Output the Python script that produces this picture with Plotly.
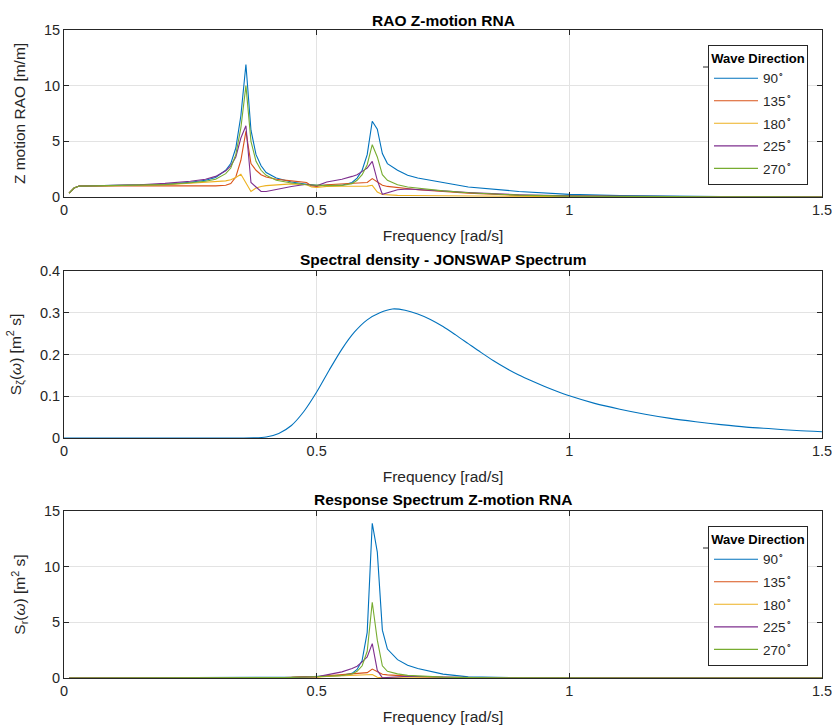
import plotly.graph_objects as go

# ---------------- data ----------------
freq = [0.01, 0.02, 0.03, 0.05, 0.10, 0.15, 0.20, 0.25, 0.28, 0.30,
        0.32, 0.33, 0.34, 0.35, 0.36, 0.37, 0.38, 0.39, 0.40, 0.42,
        0.45, 0.48, 0.49, 0.50, 0.52, 0.55, 0.57, 0.58, 0.59, 0.60,
        0.61, 0.62, 0.63, 0.64, 0.66, 0.68, 0.70, 0.75, 0.80, 0.90,
        1.00, 1.10, 1.20, 1.30, 1.40, 1.50]

directions = ["90", "135", "180", "225", "270"]

rao_90 = [0.35, 0.8, 0.98, 1.0, 1.02, 1.06, 1.13, 1.32, 1.5, 1.75,
          2.4, 3.0, 4.4, 7.3, 11.9, 6.0, 3.8, 2.8, 2.2, 1.7,
          1.35, 1.15, 1.1, 1.05, 1.05, 1.06, 1.3, 1.7, 2.4, 3.8,
          6.8, 6.1, 3.9, 3.0, 2.4, 1.95, 1.7, 1.3, 0.9, 0.5,
          0.24, 0.12, 0.06, 0.03, 0.015, 0.01]
rao_135 = [0.35, 0.8, 0.98, 1.0, 1.0, 1.0, 1.0, 0.97, 0.98, 1.0,
           1.05, 1.2, 1.8, 3.3, 5.9, 3.0, 2.4, 2.0, 1.8, 1.6,
           1.45, 1.3, 1.0, 0.95, 1.1, 1.2, 1.22, 1.25, 1.28, 1.3,
           1.65, 1.35, 1.05, 0.95, 0.85, 0.75, 0.65, 0.5, 0.35, 0.15,
           0.07, 0.04, 0.02, 0.01, 0.01, 0.005]
rao_180 = [0.35, 0.8, 0.98, 1.0, 1.01, 1.04, 1.1, 1.23, 1.3, 1.35,
           1.45, 1.55, 1.75, 2.05, 1.25, 0.5, 0.8, 0.95, 1.02, 1.1,
           1.18, 1.1, 0.9, 0.85, 0.95, 0.96, 0.96, 0.96, 0.97, 0.98,
           1.05, 0.45, 0.22, 0.18, 0.15, 0.13, 0.12, 0.1, 0.08, 0.05,
           0.03, 0.02, 0.01, 0.01, 0.005, 0.005]
rao_225 = [0.35, 0.8, 0.98, 1.0, 1.03, 1.1, 1.22, 1.41, 1.6, 1.85,
           2.35, 2.8, 3.6, 5.3, 6.4, 1.3, 0.9, 0.5, 0.5, 0.7,
           0.95, 1.15, 1.1, 1.0, 1.35, 1.6, 1.85, 2.0, 2.3, 2.6,
           3.2, 1.5, 0.25, 0.4, 0.65, 0.72, 0.68, 0.55, 0.4, 0.2,
           0.1, 0.05, 0.03, 0.015, 0.01, 0.005]
rao_270 = [0.35, 0.8, 0.98, 1.0, 1.02, 1.05, 1.11, 1.28, 1.42, 1.6,
           2.1, 2.6, 3.8, 6.2, 10.0, 5.0, 3.2, 2.4, 1.95, 1.5,
           1.25, 1.1, 1.08, 1.02, 1.02, 1.04, 1.2, 1.5, 2.0, 2.9,
           4.7, 3.6, 2.0, 1.5, 1.1, 0.9, 0.8, 0.55, 0.38, 0.17,
           0.08, 0.04, 0.02, 0.01, 0.008, 0.005]

resp_90 = [0, 0, 0, 0, 0, 0, 0, 0, 0, 0,
           0, 0, 0, 0, 0, 0, 0.002, 0.008, 0.015, 0.03,
           0.064, 0.1, 0.11, 0.12, 0.17, 0.24, 0.42, 0.77, 1.58, 4.1,
           13.9, 11.3, 4.3, 2.6, 1.65, 1.15, 0.85, 0.35, 0.1, 0.02,
           0.005, 0, 0, 0, 0, 0]
resp_135 = [0, 0, 0, 0, 0, 0, 0, 0, 0, 0,
            0, 0, 0, 0, 0, 0, 0, 0.004, 0.012, 0.025,
            0.07, 0.14, 0.09, 0.1, 0.19, 0.31, 0.37, 0.41, 0.45, 0.48,
            0.8, 0.55, 0.33, 0.28, 0.22, 0.17, 0.12, 0.065, 0.028, 0.003,
            0, 0, 0, 0, 0, 0]
resp_180 = [0, 0, 0, 0, 0, 0, 0, 0, 0, 0,
            0, 0, 0, 0, 0, 0, 0, 0, 0.003, 0.012,
            0.05, 0.09, 0.073, 0.08, 0.14, 0.2, 0.23, 0.245, 0.26, 0.27,
            0.32, 0.06, 0.015, 0.01, 0.007, 0.005, 0.004, 0.002, 0.001, 0,
            0, 0, 0, 0, 0, 0]
resp_225 = [0, 0, 0, 0, 0, 0, 0, 0, 0, 0,
            0, 0, 0, 0, 0, 0, 0, 0, 0, 0.005,
            0.03, 0.1, 0.11, 0.11, 0.28, 0.55, 0.86, 1.06, 1.45, 1.9,
            3.09, 0.68, 0.02, 0.05, 0.13, 0.16, 0.14, 0.08, 0.04, 0.006,
            0, 0, 0, 0, 0, 0]
resp_270 = [0, 0, 0, 0, 0, 0, 0, 0, 0, 0,
            0, 0, 0, 0, 0, 0, 0, 0.005, 0.011, 0.022,
            0.055, 0.09, 0.1, 0.11, 0.16, 0.23, 0.36, 0.6, 1.1, 2.4,
            6.8, 3.4, 1.1, 0.6, 0.37, 0.24, 0.19, 0.08, 0.03, 0.005,
            0, 0, 0, 0, 0, 0]

spec_freq = [0.0, 0.30, 0.35, 0.375, 0.40, 0.425, 0.45, 0.475, 0.50, 0.525,
             0.55, 0.575, 0.60, 0.625, 0.65, 0.675, 0.70, 0.725, 0.75, 0.775,
             0.80, 0.825, 0.85, 0.875, 0.90, 0.925, 0.95, 0.975, 1.00, 1.05,
             1.10, 1.15, 1.20, 1.25, 1.30, 1.35, 1.40, 1.45, 1.50]
spec_val = [0.0, 0.0, 0.0, 0.0003, 0.0025, 0.011, 0.030, 0.064, 0.110, 0.163,
            0.213, 0.254, 0.283, 0.300, 0.309, 0.306, 0.297, 0.284, 0.267, 0.247,
            0.226, 0.205, 0.185, 0.167, 0.151, 0.137, 0.124, 0.112, 0.101, 0.083,
            0.069, 0.057, 0.047, 0.039, 0.032, 0.026, 0.022, 0.018, 0.015]

x_ticks = [0, 0.5, 1, 1.5]
x_ticktext = ["0", "0.5", "1", "1.5"]
y_ticks_rao = [0, 5, 10, 15]
y_ticks_spec = [0, 0.1, 0.2, 0.3, 0.4]

colors = ["#0072BD", "#D95319", "#EDB120", "#7E2F8E", "#77AC30"]

# ---------------- figure ----------------
W, H = 832, 725
FONT = "Liberation Sans, Arial, Helvetica, sans-serif"
TXT = "#262626"

fig = go.Figure()

rao_series = [rao_90, rao_135, rao_180, rao_225, rao_270]
resp_series = [resp_90, resp_135, resp_180, resp_225, resp_270]

for d, c, ys in zip(directions, colors, rao_series):
    fig.add_trace(go.Scatter(x=freq, y=ys, mode="lines", name=d + "<sup>∘</sup>",
                             line=dict(color=c, width=1.1), legendgroup="top" + d,
                             xaxis="x", yaxis="y", legend="legend"))

fig.add_trace(go.Scatter(x=spec_freq, y=spec_val, mode="lines", showlegend=False,
                         line=dict(color=colors[0], width=1.1, shape="spline", smoothing=0.8),
                         xaxis="x2", yaxis="y2"))

for d, c, ys in zip(directions, colors, resp_series):
    fig.add_trace(go.Scatter(x=freq, y=ys, mode="lines", name=d + "<sup>∘</sup>",
                             line=dict(color=c, width=1.1), legendgroup="bot" + d,
                             xaxis="x3", yaxis="y3", legend="legend2"))

def px_dom_y(top, bottom):
    return [1 - bottom / H, 1 - top / H]

xdom = [64 / W, 822 / W]
doms = [px_dom_y(30, 197), px_dom_y(271, 438), px_dom_y(511, 678)]

axis_common = dict(showgrid=True, gridcolor="#e3e3e3", gridwidth=1,
                   showline=True, linecolor=TXT, linewidth=1, mirror="ticks",
                   ticks="inside", ticklen=5, tickcolor=TXT, tickwidth=1,
                   zeroline=False, automargin=False, ticklabeloverflow="allow",
                   tickfont=dict(family=FONT, size=14.5, color=TXT))

layout = dict(width=W, height=H, paper_bgcolor="white", plot_bgcolor="white",
              margin=dict(l=0, r=0, t=0, b=0),
              font=dict(family=FONT, size=14, color=TXT))

ylabels = ["Z motion RAO [m/m]",
           "S<sub>ζ</sub>(<i>ω</i>) [m<sup>2</sup> s]",
           "S<sub>r</sub>(<i>ω</i>) [m<sup>2</sup> s]"]
yranges = [[0, 15], [0, 0.4], [0, 15]]
yticks = [y_ticks_rao, y_ticks_spec, y_ticks_rao]

for i in range(3):
    sx = "" if i == 0 else str(i + 1)
    layout["xaxis" + sx] = dict(axis_common, domain=xdom, range=[0, 1.5],
                                tickvals=x_ticks, ticktext=x_ticktext,
                                anchor="y" + sx,
                                title=dict(text="Frequency [rad/s]", standoff=12,
                                           font=dict(family=FONT, size=15.5, color=TXT)))
    layout["yaxis" + sx] = dict(axis_common, domain=doms[i], range=yranges[i],
                                tickvals=yticks[i], anchor="x" + sx,
                                title=dict(text=ylabels[i], standoff=14,
                                           font=dict(family=FONT, size=15.5, color=TXT)))

titles = ["RAO Z-motion RNA", "Spectral density - JONSWAP Spectrum",
          "Response Spectrum Z-motion RNA"]
title_y = [21, 259, 499]
ann = []
for t, ty in zip(titles, title_y):
    ann.append(dict(text="<b>" + t + "</b>", x=(64 + 822) / 2 / W, y=1 - ty / H,
                    xref="paper", yref="paper", xanchor="center", yanchor="middle",
                    showarrow=False, font=dict(family=FONT, size=15.5, color="black")))
layout["annotations"] = ann

leg_common = dict(bgcolor="white", bordercolor=TXT, borderwidth=1,
                  xanchor="right", yanchor="top", itemwidth=44, tracegroupgap=2,
                  font=dict(family=FONT, size=13.5, color=TXT),
                  title=dict(text="<b>Wave Direction</b>", side="top center",
                             font=dict(family=FONT, size=13, color="black")))
layout["legend"] = dict(leg_common, x=808 / W, y=1 - 45 / H)
layout["legend2"] = dict(leg_common, x=808 / W, y=1 - 526 / H)

shapes = []
for ysep in (67, 548):
    shapes.append(dict(type="line", xref="paper", yref="paper",
                       x0=703 / W, x1=808 / W, y0=1 - ysep / H, y1=1 - ysep / H,
                       line=dict(color=TXT, width=1)))
layout["shapes"] = shapes

fig.update_layout(**layout)
fig.write_html("out.html", config={"displayModeBar": False},
               post_script="document.body.style.margin='0px';")
